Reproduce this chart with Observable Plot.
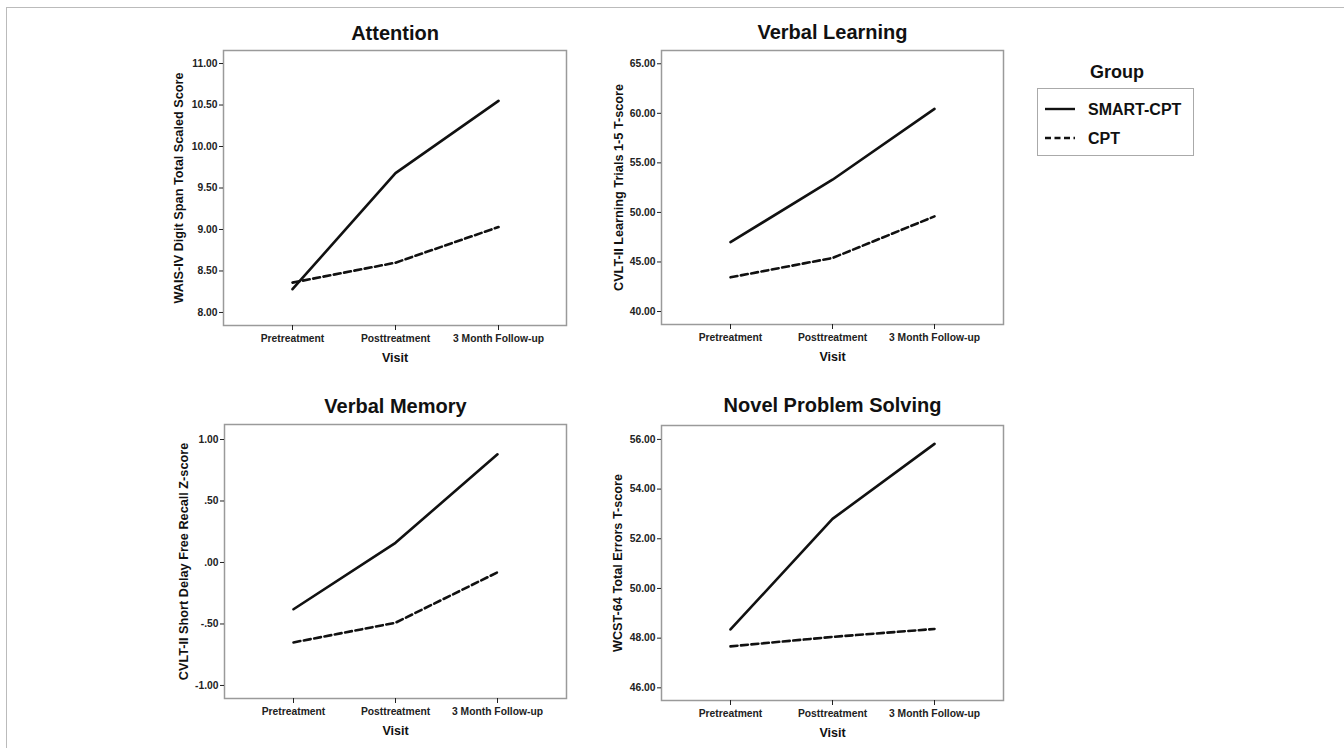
<!DOCTYPE html>
<html>
<head>
<meta charset="utf-8">
<script src="https://cdn.jsdelivr.net/npm/d3@7"></script>
<script src="https://cdn.jsdelivr.net/npm/@observablehq/plot@0.6"></script>
<style>
  html, body { margin: 0; padding: 0; background: #fff; }
  #root { position: relative; width: 1344px; height: 748px; overflow: hidden; font-family: "Liberation Sans", Arial, sans-serif; }
  #border { position: absolute; left: 6px; top: 7px; right: -5px; bottom: -5px; border-top: 1.5px solid #bbb; border-left: 1.5px solid #bbb; }
  .panel { position: absolute; }
  #legend { position: absolute; left: 1030px; top: 55px; }
</style>
</head>
<body>
<div id="root">
  <div id="border"></div>
  <div class="panel" id="p1" style="left:150px; top:0px;"></div>
  <div class="panel" id="p2" style="left:590px; top:0px;"></div>
  <div class="panel" id="p3" style="left:150px; top:372px;"></div>
  <div class="panel" id="p4" style="left:590px; top:372px;"></div>
  <div id="legend"></div>
</div>
<script>
// ---- Data ----
const visits = ["Pretreatment", "Posttreatment", "3 Month Follow-up"];
const groups = ["SMART-CPT", "CPT"];

const attentionSmart = [8.28, 9.68, 10.55];
const attentionCpt   = [8.36, 8.60, 9.03];

const learningSmart = [47.0, 53.3, 60.45];
const learningCpt   = [43.45, 45.4, 49.6];

const memorySmart = [-0.38, 0.16, 0.88];
const memoryCpt   = [-0.65, -0.49, -0.08];

const problemSmart = [48.35, 52.8, 55.82];
const problemCpt   = [47.67, 48.05, 48.37];

const attentionTicks = [8, 8.5, 9, 9.5, 10, 10.5, 11];
const learningTicks  = [40, 45, 50, 55, 60, 65];
const memoryTicks    = [-1, -0.5, 0, 0.5, 1];
const problemTicks   = [46, 48, 50, 52, 54, 56];

const panelTitles = ["Attention", "Verbal Learning", "Verbal Memory", "Novel Problem Solving"];
const yLabels = [
  "WAIS-IV Digit Span Total Scaled Score",
  "CVLT-II Learning Trials 1-5 T-score",
  "CVLT-II Short Delay Free Recall Z-score",
  "WCST-64 Total Errors T-score"
];
const xLabel = "Visit";

// ---- helpers ----
const FONT = '"Liberation Sans", Arial, sans-serif';
const fmt = d => d3.format(".2f")(d).replace(/\u2212/g, "-").replace(/^(-?)0\./, "$1.");

function rows(smart, cpt) {
  return [
    ...visits.map((v, i) => ({visit: v, group: groups[0], value: smart[i]})),
    ...visits.map((v, i) => ({visit: v, group: groups[1], value: cpt[i]}))
  ];
}

function panel(cfg) {
  const data = rows(cfg.smart, cfg.cpt);
  return Plot.plot({
    width: 440,
    height: cfg.height,
    marginLeft: cfg.ml, marginRight: cfg.mr, marginTop: cfg.mt, marginBottom: cfg.mb,
    style: {fontFamily: FONT, fontSize: "10px", fontWeight: "bold", color: "#222", background: "transparent", overflow: "visible"},
    x: {type: "point", domain: visits, padding: 0.665, axis: null},
    y: {domain: cfg.domain, axis: null},
    marks: [
      Plot.frame({stroke: "#9a9a9a", strokeWidth: 1.5}),
      Plot.axisY({ticks: cfg.ticks, tickFormat: fmt, tickSize: 4, tickPadding: 2, label: null, fontSize: 10.3, fontWeight: "bold"}),
      Plot.axisX({tickSize: 5, tickPadding: 4, label: null, fontSize: 10.3, fontWeight: "bold"}),
      Plot.line(data.filter(d => d.group === groups[0]), {x: "visit", y: "value", stroke: "#111", strokeWidth: 2.6}),
      Plot.line(data.filter(d => d.group === groups[1]), {x: "visit", y: "value", stroke: "#111", strokeWidth: 2.6, strokeDasharray: "7,3.5"}),
      Plot.text([cfg.title], {frameAnchor: "top", dy: cfg.titleDy, fontSize: 20, fontWeight: "bold", lineAnchor: "middle", textAnchor: "middle", fill: "#111"}),
      Plot.text([cfg.ylabel], {frameAnchor: "left", rotate: -90, dx: cfg.ylDx, fontSize: 12.7, fontWeight: "bold", lineAnchor: "middle", textAnchor: "middle", fill: "#111"}),
      Plot.text([xLabel], {frameAnchor: "bottom", dy: 32, fontSize: 12.5, fontWeight: "bold", lineAnchor: "middle", textAnchor: "middle", fill: "#111"})
    ]
  });
}

document.getElementById("p1").append(panel({
  smart: attentionSmart, cpt: attentionCpt, domain: [7.843, 11.157], ticks: attentionTicks,
  title: panelTitles[0], ylabel: yLabels[0],
  height: 372, ml: 73, mr: 24, mt: 50, mb: 47, titleDy: -17, ylDx: -45
}));
document.getElementById("p2").append(panel({
  smart: learningSmart, cpt: learningCpt, domain: [38.69, 66.34], ticks: learningTicks,
  title: panelTitles[1], ylabel: yLabels[1],
  height: 372, ml: 71, mr: 27, mt: 50, mb: 48, titleDy: -18, ylDx: -43
}));
document.getElementById("p3").append(panel({
  smart: memorySmart, cpt: memoryCpt, domain: [-1.106, 1.122], ticks: memoryTicks,
  title: panelTitles[2], ylabel: yLabels[2],
  height: 376, ml: 74, mr: 24, mt: 52, mb: 50, titleDy: -18, ylDx: -41
}));
document.getElementById("p4").append(panel({
  smart: problemSmart, cpt: problemCpt, domain: [45.49, 56.56], ticks: problemTicks,
  title: panelTitles[3], ylabel: yLabels[3],
  height: 376, ml: 71, mr: 27, mt: 53, mb: 48, titleDy: -20, ylDx: -44
}));

// ---- Legend ----
(function () {
  const ns = "http://www.w3.org/2000/svg";
  const svg = document.createElementNS(ns, "svg");
  svg.setAttribute("width", 180);
  svg.setAttribute("height", 110);
  svg.style.fontFamily = FONT;
  svg.style.fontWeight = "bold";
  const mk = (tag, attrs, text) => {
    const el = document.createElementNS(ns, tag);
    for (const k in attrs) el.setAttribute(k, attrs[k]);
    if (text != null) el.textContent = text;
    svg.appendChild(el);
    return el;
  };
  mk("text", {x: 87, y: 17, "text-anchor": "middle", "dominant-baseline": "central", "font-size": 18, fill: "#111"}, "Group");
  mk("rect", {x: 7.5, y: 33.5, width: 156, height: 67, fill: "none", stroke: "#aaa", "stroke-width": 1});
  const dashes = [null, "6,3.5"];
  const ys = [54, 83];
  groups.forEach((g, i) => {
    const l = mk("line", {x1: 15, x2: 45, y1: ys[i], y2: ys[i], stroke: "#111", "stroke-width": 2.4});
    if (dashes[i]) l.setAttribute("stroke-dasharray", dashes[i]);
    mk("text", {x: 58, y: ys[i], "dominant-baseline": "central", "font-size": 16, fill: "#111"}, g);
  });
  document.getElementById("legend").appendChild(svg);
})();
</script>
</body>
</html>
